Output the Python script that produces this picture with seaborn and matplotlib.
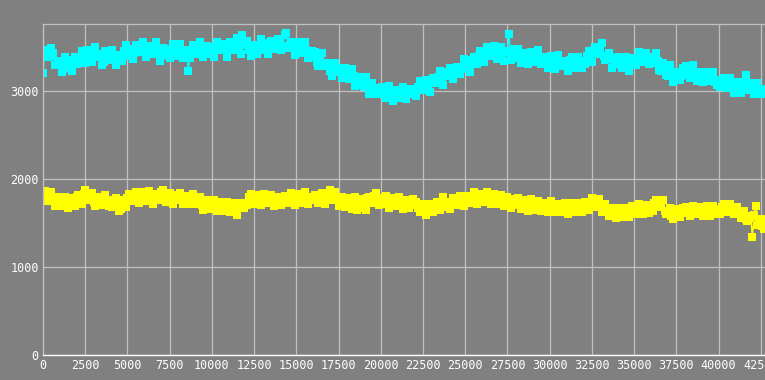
import numpy as np
import pandas as pd
import seaborn as sns
import matplotlib.pyplot as plt

# two interleaved sample sets (every 200 units, offset by 100)
x_a = np.arange(0, 42601, 200)
x_b = np.arange(100, 42701, 200)

cyan_a = [
    3200, 3460, 3400, 3430, 3290, 3340, 3250, 3310, 3260, 3350,
    3300, 3390, 3370, 3460, 3400, 3470, 3380, 3410, 3330, 3420,
    3430, 3350, 3400, 3370, 3450, 3400, 3480, 3430, 3510, 3440,
    3500, 3440, 3490, 3420, 3470, 3400, 3460, 3410, 3480, 3430,
    3470, 3410, 3460, 3230, 3430, 3470, 3420, 3500, 3450, 3490,
    3430, 3500, 3460, 3510, 3470, 3530, 3480, 3550, 3470, 3640,
    3520, 3460, 3500, 3450, 3520, 3470, 3540, 3490, 3560, 3500,
    3560, 3510, 3660, 3490, 3540, 3470, 3510, 3440, 3460, 3390,
    3400, 3330, 3370, 3290, 3320, 3230, 3280, 3210, 3260, 3180,
    3210, 3130, 3170, 3090, 3130, 3050, 3070, 3000, 3030, 2960,
    3000, 2950, 2990, 2940, 3010, 2960, 2930, 3000, 2960, 3020,
    2990, 3050, 3020, 3080, 3060, 3120, 3090, 3160, 3130, 3190,
    3170, 3230, 3200, 3270, 3250, 3320, 3280, 3350, 3320, 3400,
    3360, 3440, 3400, 3470, 3420, 3480, 3390, 3440, 3650, 3380,
    3430, 3370, 3410, 3360, 3400, 3340, 3390, 3330, 3370, 3310,
    3360, 3300, 3350, 3290, 3330, 3280, 3350, 3270, 3310, 3340,
    3320, 3400, 3380, 3460, 3430, 3480, 3400, 3360, 3380, 3310,
    3340, 3290, 3330, 3300, 3350, 3310, 3370, 3340, 3390, 3360,
    3390, 3330, 3340, 3230, 3250, 3170, 3210, 3140, 3200, 3170,
    3230, 3180, 3240, 3160, 3210, 3140, 3190, 3120, 3160, 3100,
    3120, 3060, 3090, 3040, 3080, 3030, 3070, 3020, 3180, 3080,
    3020, 3060, 2990, 2960,
]

cyan_b = [
    3450, 3390, 3490, 3290, 3340, 3220, 3380, 3280, 3230, 3380,
    3320, 3450, 3320, 3460, 3330, 3500, 3420, 3290, 3450, 3350,
    3470, 3290, 3410, 3340, 3520, 3410, 3360, 3520, 3440, 3550,
    3390, 3510, 3430, 3550, 3340, 3490, 3440, 3370, 3530, 3400,
    3530, 3370, 3470, 3370, 3520, 3420, 3550, 3380, 3510, 3420,
    3390, 3550, 3460, 3530, 3390, 3560, 3460, 3600, 3420, 3520,
    3570, 3400, 3520, 3420, 3590, 3460, 3420, 3570, 3480, 3590,
    3470, 3630, 3490, 3560, 3410, 3560, 3430, 3550, 3370, 3450,
    3440, 3280, 3430, 3280, 3320, 3170, 3320, 3220, 3150, 3260,
    3130, 3250, 3060, 3160, 3070, 3160, 2960, 3090, 2970, 3020,
    3040, 2915, 3060, 2890, 3005, 2925, 3040, 2905, 3025, 2970,
    2940, 3110, 3005, 3120, 2990, 3150, 3090, 3230, 3070, 3210,
    3260, 3130, 3270, 3190, 3360, 3260, 3220, 3390, 3310, 3450,
    3330, 3500, 3400, 3510, 3360, 3500, 3340, 3450, 3350, 3480,
    3480, 3320, 3430, 3300, 3440, 3330, 3460, 3300, 3380, 3260,
    3400, 3250, 3410, 3280, 3340, 3230, 3390, 3260, 3380, 3260,
    3300, 3450, 3330, 3500, 3420, 3540, 3350, 3430, 3260, 3370,
    3390, 3260, 3390, 3230, 3370, 3290, 3440, 3330, 3430, 3300,
    3320, 3430, 3240, 3320, 3180, 3290, 3100, 3220, 3120, 3260,
    3280, 3150, 3290, 3110, 3220, 3100, 3220, 3110, 3210, 3070,
    3040, 3150, 3030, 3150, 2980, 3100, 2980, 3100, 3010, 3090,
    2970, 3090, 2960, 3020,
]

yellow_a = [
    1760, 1840, 1790, 1750, 1800, 1710, 1760, 1690, 1780, 1730,
    1800, 1750, 1830, 1770, 1810, 1740, 1790, 1730, 1770, 1720,
    1760, 1700, 1740, 1660, 1710, 1780, 1750, 1820, 1770, 1830,
    1790, 1830, 1770, 1810, 1760, 1850, 1780, 1820, 1760, 1800,
    1820, 1760, 1800, 1740, 1790, 1730, 1770, 1700, 1740, 1690,
    1720, 1660, 1740, 1680, 1720, 1640, 1690, 1620, 1700, 1730,
    1710, 1790, 1760, 1800, 1730, 1780, 1740, 1790, 1750, 1780,
    1740, 1790, 1750, 1810, 1760, 1820, 1760, 1800, 1740, 1790,
    1760, 1810, 1770, 1820, 1780, 1870, 1760, 1790, 1720, 1760,
    1750, 1700, 1740, 1650, 1730, 1700, 1780, 1750, 1810, 1760,
    1780, 1730, 1760, 1710, 1750, 1700, 1740, 1690, 1730, 1700,
    1720, 1670, 1690, 1640, 1670, 1660, 1720, 1690, 1740, 1710,
    1740, 1710, 1760, 1730, 1780, 1750, 1800, 1760, 1810, 1770,
    1800, 1760, 1820, 1770, 1790, 1740, 1770, 1720, 1760, 1710,
    1750, 1700, 1740, 1690, 1730, 1680, 1720, 1670, 1710, 1660,
    1700, 1660, 1710, 1650, 1690, 1640, 1690, 1650, 1700, 1680,
    1720, 1690, 1740, 1710, 1750, 1680, 1690, 1620, 1640, 1590,
    1630, 1590, 1650, 1610, 1660, 1620, 1670, 1630, 1680, 1650,
    1680, 1730, 1700, 1720, 1640, 1640, 1580, 1620, 1590, 1640,
    1610, 1650, 1620, 1660, 1630, 1650, 1620, 1650, 1610, 1660,
    1640, 1680, 1650, 1690, 1630, 1650, 1600, 1610, 1550, 1560,
    1340, 1690, 1510, 1460,
]

yellow_b = [
    1860, 1750, 1850, 1690, 1790, 1690, 1800, 1670, 1770, 1690,
    1820, 1710, 1870, 1760, 1840, 1690, 1780, 1700, 1820, 1690,
    1680, 1780, 1640, 1760, 1680, 1830, 1750, 1850, 1730, 1850,
    1750, 1860, 1710, 1830, 1770, 1880, 1740, 1840, 1720, 1820,
    1840, 1710, 1810, 1710, 1830, 1710, 1800, 1650, 1760, 1660,
    1760, 1640, 1740, 1640, 1740, 1630, 1730, 1590, 1720, 1670,
    1700, 1830, 1710, 1820, 1700, 1830, 1730, 1820, 1690, 1800,
    1700, 1810, 1730, 1840, 1700, 1830, 1730, 1850, 1710, 1800,
    1820, 1730, 1840, 1720, 1830, 1760, 1850, 1690, 1790, 1680,
    1780, 1660, 1790, 1670, 1770, 1650, 1800, 1730, 1840, 1700,
    1710, 1810, 1670, 1780, 1690, 1790, 1660, 1760, 1670, 1770,
    1740, 1620, 1720, 1590, 1720, 1630, 1740, 1650, 1790, 1680,
    1660, 1780, 1700, 1810, 1690, 1810, 1730, 1850, 1720, 1830,
    1740, 1850, 1720, 1830, 1720, 1820, 1690, 1790, 1670, 1770,
    1780, 1660, 1760, 1640, 1770, 1650, 1750, 1640, 1730, 1620,
    1750, 1630, 1720, 1620, 1730, 1600, 1730, 1630, 1730, 1630,
    1740, 1650, 1780, 1680, 1770, 1630, 1710, 1580, 1670, 1560,
    1670, 1570, 1670, 1570, 1690, 1600, 1710, 1600, 1700, 1610,
    1640, 1760, 1680, 1760, 1600, 1670, 1550, 1660, 1570, 1670,
    1680, 1580, 1690, 1600, 1680, 1580, 1690, 1580, 1690, 1600,
    1600, 1710, 1630, 1720, 1600, 1680, 1560, 1640, 1520, 1580,
    1590, 1480, 1540, 1430,
]

x_ticks = np.arange(0, 42501, 2500)
y_ticks = [0, 1000, 2000, 3000]

bg = "#808080"
grid_col = "#c0c0c0"

sns.set_style("darkgrid", {
    "axes.facecolor": bg,
    "figure.facecolor": bg,
    "grid.color": grid_col,
    "axes.edgecolor": grid_col,
})
plt.rcParams["font.family"] = ["DejaVu Sans Mono", "DejaVu Sans"]

df = pd.DataFrame({
    "x": np.concatenate([x_a, x_b]),
    "cyan": cyan_a + cyan_b,
    "yellow": yellow_a + yellow_b,
}).sort_values("x")

fig = plt.figure(figsize=(7.65, 3.8), dpi=100)
ax = fig.add_axes([43 / 765, 25 / 380, 722 / 765, 331 / 380])

for col, c in [("cyan", "#00ffff"), ("yellow", "#ffff00")]:
    sns.lineplot(data=df, x="x", y=col, ax=ax, color=c, marker="s",
                 markersize=5.2, markeredgewidth=0, linewidth=1.0,
                 estimator=None, sort=True)

ax.set_xlim(0, 42750)
ax.set_ylim(0, 3760)
ax.set_xticks(x_ticks)
ax.set_yticks(y_ticks)
ax.set_xticklabels([str(t) for t in x_ticks])
ax.set_yticklabels([str(t) for t in y_ticks])
ax.grid(True, color=grid_col, linewidth=0.9)
ax.set_axisbelow(True)
ax.tick_params(length=0, colors="white", labelsize=8.5, pad=3)
ax.set_xlabel("")
ax.set_ylabel("")

for side in ["top", "left"]:
    ax.spines[side].set_visible(True)
    ax.spines[side].set_color(grid_col)
    ax.spines[side].set_linewidth(0.9)
ax.spines["right"].set_visible(False)
ax.spines["bottom"].set_visible(True)
ax.spines["bottom"].set_color("white")
ax.spines["bottom"].set_linewidth(1.0)

fig.savefig("out.png", dpi=100, facecolor=bg)
